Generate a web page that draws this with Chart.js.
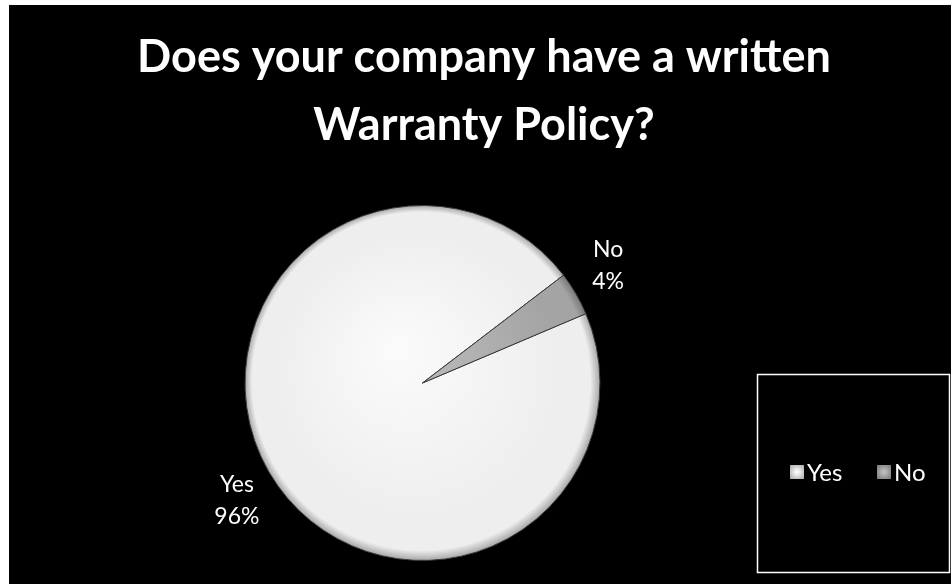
<!DOCTYPE html>
<html>
<head>
<meta charset="utf-8">
<script src="https://cdn.jsdelivr.net/npm/chart.js@4/dist/chart.umd.min.js"></script>
<style>
	html, body { margin: 0; padding: 0; background: #fff; }
	#wrap { position: absolute; left: 9px; top: 5px; width: 942px; height: 579px; background: #000; }
</style>
</head>
<body>
<div id="wrap"><canvas id="warrantyPie" width="942" height="579"></canvas></div>
<script>
// chart data
var titleLines = ['Does your company have a written', 'Warranty Policy?'];
var answerLabels = ['Yes', 'No'];
var answerPercent = [96, 4];

var FONT = 'Lato, "Open Sans", sans-serif';

// shades per slice: centre, body, rim
var sliceShades = [
	['#fbfbfb', '#eeeeee', '#a4a4a4'],
	['#bdbdbd', '#a4a4a4', '#767676']
];

// soft bevel look: light centre, darker rim (built from the chart area)
function sliceFill(context) {
	var shade = sliceShades[context.dataIndex % sliceShades.length];
	var chart = context.chart;
	var area = chart.chartArea;
	if (!area) return shade[1];
	var cx = (area.left + area.right) / 2;
	var cy = (area.top + area.bottom) / 2;
	var r = Math.min(area.right - area.left, area.bottom - area.top) / 2;
	var g = chart.ctx.createRadialGradient(cx - r * 0.15, cy - r * 0.2, 0, cx, cy, r);
	g.addColorStop(0, shade[0]);
	g.addColorStop(0.8, shade[1]);
	g.addColorStop(0.95, shade[1]);
	g.addColorStop(1, shade[2]);
	return g;
}

/**
 * Title, centred on the whole canvas
 */
var wideTitle = {
	id: 'wideTitle',
	afterDraw: function(chart) {
		var ctx = chart.ctx;
		ctx.save();
		ctx.fillStyle = '#fff';
		ctx.font = 'bold 45px ' + FONT;
		ctx.textAlign = 'center';
		ctx.textBaseline = 'alphabetic';
		titleLines.forEach(function(line, i) {
			ctx.fillText(line, chart.width / 2 + 4, 67 + i * 68);
		});
		ctx.restore();
	}
};

/**
 * Slice labels, "Name" over "NN%", outside the pie
 */
var sliceLabels = {
	id: 'sliceLabels',
	afterDatasetsDraw: function(chart) {
		var ctx = chart.ctx;
		var meta = chart.getDatasetMeta(0);
		ctx.save();
		ctx.fillStyle = '#fff';
		ctx.font = '23px ' + FONT;
		ctx.textAlign = 'center';
		ctx.textBaseline = 'middle';
		meta.data.forEach(function(arc, i) {
			var p = arc.getProps(['x', 'y', 'startAngle', 'endAngle', 'outerRadius'], true);
			var mid = (p.startAngle + p.endAngle) / 2;
			var x = p.x + Math.cos(mid) * p.outerRadius * 1.21;
			var y = p.y + Math.sin(mid) * p.outerRadius * 1.32;
			ctx.fillText(answerLabels[i], x, y - 16);
			ctx.fillText(answerPercent[i] + '%', x, y + 16);
		});
		ctx.restore();
	}
};

/**
 * Boxed horizontal legend at the lower right
 */
var boxLegend = {
	id: 'boxLegend',
	afterDraw: function(chart) {
		var ctx = chart.ctx;
		ctx.save();
		ctx.strokeStyle = '#fff';
		ctx.lineWidth = 1.5;
		ctx.strokeRect(748.5, 369.5, 192, 198);
		ctx.font = '24px ' + FONT;
		ctx.textBaseline = 'middle';
		ctx.textAlign = 'left';
		var xs = [781, 868];
		var cy = 467;
		answerLabels.forEach(function(label, i) {
			var shade = sliceShades[i];
			var g = ctx.createRadialGradient(xs[i] + 7, cy, 1, xs[i] + 7, cy, 10);
			g.addColorStop(0, shade[0]);
			g.addColorStop(1, shade[2]);
			ctx.fillStyle = g;
			ctx.fillRect(xs[i], cy - 7, 14, 14);
			ctx.fillStyle = '#fff';
			ctx.fillText(label, xs[i] + 17, cy + 1);
		});
		ctx.restore();
	}
};

var ctx = document.getElementById('warrantyPie').getContext('2d');

new Chart(ctx, {
	type: 'pie',
	data: {
		labels: answerLabels,
		datasets: [{
			data: answerPercent,
			backgroundColor: sliceFill,
			borderColor: '#3a3a3a',
			borderWidth: 1,
			hoverBorderWidth: 1,
			hoverOffset: 0
		}]
	},
	options: {
		responsive: false,
		animation: false,
		rotation: 67,
		layout: {
			padding: { left: 0, right: 115, top: 200, bottom: 23 }
		},
		plugins: {
			legend: { display: false },
			tooltip: { enabled: false },
			title: { display: false }
		}
	},
	plugins: [sliceLabels, boxLegend, wideTitle]
});
</script>
</body>
</html>
